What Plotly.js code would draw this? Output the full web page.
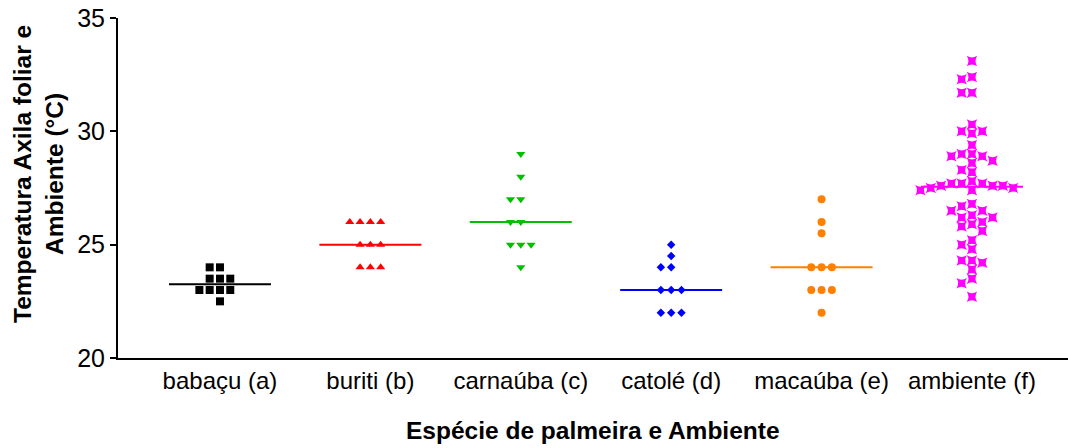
<!DOCTYPE html>
<html><head><meta charset="utf-8">
<script src="https://cdn.plot.ly/plotly-3.0.1.min.js"></script>
<style>html,body{margin:0;padding:0;background:#fff;} #chart{width:1068px;height:448px;}</style>
</head><body><div id="chart"></div>
<script>
// ---- data ----
const categories = ["babaçu (a)", "buriti (b)", "carnaúba (c)", "catolé (d)", "macaúba (e)", "ambiente (f)"];
const babacu   = [24, 24, 23.5, 23.5, 23.5, 23, 23, 23, 23, 22.5];
const buriti   = [26, 26, 26, 26, 25, 25, 25, 24, 24, 24];
const carnauba = [29, 28, 27, 27, 26, 26, 25, 25, 25, 24];
const catole   = [25, 24.5, 24, 24, 23, 23, 23, 22, 22, 22];
const macauba  = [27, 26, 25.5, 24, 24, 24, 23, 23, 23, 22];
const ambiente = [33.1, 32.4, 32.3, 31.7, 31.7, 30.3, 30.0, 30.0, 29.9, 29.4,
                  29.0, 29.0, 28.9, 28.9, 28.7, 28.6, 28.3, 28.2, 27.8, 27.7,
                  27.7, 27.7, 27.6, 27.6, 27.6, 27.5, 27.5, 27.4, 27.4, 26.8,
                  26.7, 26.5, 26.5, 26.3, 26.2, 26.2, 26.0, 25.9, 25.8, 25.6,
                  25.2, 25.0, 24.8, 24.3, 24.3, 24.2, 23.9, 23.5, 23.3, 22.7];
const yTicks = [20, 25, 30, 35];
const yTitle = "Temperatura Axila foliar e<br>Ambiente (°C)";
const xTitle = "Espécie de palmeira e Ambiente";

// ---- styles ----
const series = [babacu, buriti, carnauba, catole, macauba, ambiente];
const colors = ["#000000", "#FF0000", "#00C000", "#0000FF", "#FF8000", "#FF00FF"];
const symbols = ["square", "triangle-up", "triangle-down", "diamond", "circle", "star-square"];
const msizes = [8, 8, 8, 6.5, 8, 9.5];

// ---- geometry ----
const W = 1068, H = 448;
const M = {l: 118, r: 0, t: 18, b: 90};
const plotW = W - M.l - M.r, plotH = H - M.t - M.b;
const xMin = -0.678, xMax = xMin + plotW / 150.4;
const yMin = 20, yMax = 35;
const pxX = plotW / (xMax - xMin);
const pxY = plotH / (yMax - yMin);
const stepPx = 10.3, tolPx = 7.5, halfLinePx = 51;

function median(a) {
  const s = [...a].sort((p, q) => p - q), n = s.length;
  return n % 2 ? s[(n - 1) / 2] : (s[n / 2 - 1] + s[n / 2]) / 2;
}
// simple column beeswarm: slots 0,-1,+1,-2,+2...
function swarm(vals) {
  const order = vals.map((v, i) => i).sort((a, b) => vals[b] - vals[a]);
  const placed = [], off = new Array(vals.length);
  for (const i of order) {
    for (let k = 0; ; k++) {
      const slot = k === 0 ? 0 : (k % 2 ? -Math.ceil(k / 2) : k / 2);
      const hit = placed.some(p => p.slot === slot && Math.abs(p.v - vals[i]) * pxY < tolPx);
      if (!hit) { placed.push({slot, v: vals[i]}); off[i] = slot; break; }
    }
  }
  return off;
}

const traces = [];
series.forEach((vals, ci) => {
  const m = median(vals);
  const h = halfLinePx / pxX;
  traces.push({x: [ci - h, ci + h], y: [m, m], mode: "lines", type: "scatter",
    line: {color: colors[ci], width: 2}, hoverinfo: "skip", showlegend: false, cliponaxis: false});
});
series.forEach((vals, ci) => {
  const off = swarm(vals);
  traces.push({x: vals.map((v, i) => ci + off[i] * stepPx / pxX), y: vals, mode: "markers", type: "scatter",
    marker: {color: colors[ci], symbol: symbols[ci], size: msizes[ci], line: {width: 0}},
    showlegend: false, cliponaxis: false, name: categories[ci]});
});

const font = "Liberation Sans, Arial, sans-serif";
const layout = {
  width: W, height: H, margin: M, paper_bgcolor: "#fff", plot_bgcolor: "#fff",
  showlegend: false,
  font: {family: font, color: "#000"},
  xaxis: {range: [xMin, xMax], tickvals: categories.map((c, i) => i), ticktext: categories,
    showline: true, linecolor: "#000", linewidth: 2, ticks: "", showgrid: false, zeroline: false,
    tickfont: {size: 24, family: font, color: "#000"}, fixedrange: true},
  yaxis: {range: [yMin, yMax], tickvals: yTicks, ticktext: yTicks.map(String),
    showline: true, linecolor: "#000", linewidth: 2, ticks: "outside", ticklen: 6, tickwidth: 2, tickcolor: "#000",
    showgrid: false, zeroline: false, tickfont: {size: 25, family: font, color: "#000"}, fixedrange: true},
  annotations: [
    {text: "<b>" + yTitle + "</b>", xref: "paper", yref: "paper", x: (39 - M.l) / plotW, y: 1 - (174 - M.t) / plotH,
     xanchor: "center", yanchor: "middle", textangle: -90, showarrow: false,
     font: {size: 24.5, family: font, color: "#000"}},
    {text: "<b>" + xTitle + "</b>", xref: "paper", yref: "paper", x: 0.5, y: 1 - (431 - M.t) / plotH,
     xanchor: "center", yanchor: "middle", showarrow: false,
     font: {size: 24.5, family: font, color: "#000"}}
  ]
};
Plotly.newPlot("chart", traces, layout, {displayModeBar: false, staticPlot: true});
</script>
</body></html>
